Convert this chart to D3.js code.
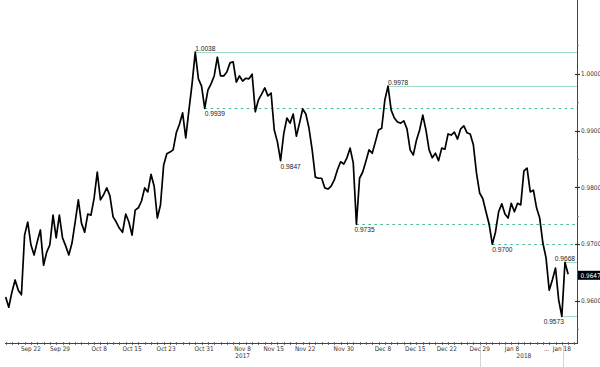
<!DOCTYPE html>
<html>
<head>
<meta charset="utf-8">
<script src="https://cdn.jsdelivr.net/npm/d3@7"></script>
<style>
  html, body { margin: 0; padding: 0; background: #fff; }
  svg { display: block; }
</style>
</head>
<body>
<svg id="chart" width="600" height="367"></svg>
<script>
// ---- data ----
// half-day samples of the price, first sample 4 trading days before Sep 22
const firstDay = -4;
const barsPerDay = 2;
const prices = [
  0.9607, 0.9589, 0.9616, 0.9637, 0.9619, 0.9611, 0.9716, 0.9739, 0.9699, 0.9681,
  0.9704, 0.9725, 0.9663, 0.9686, 0.9699, 0.9751, 0.9711, 0.9751, 0.9711, 0.9697,
  0.9681, 0.9702, 0.9739, 0.9778, 0.9737, 0.9721, 0.9753, 0.9751, 0.9781, 0.9827,
  0.9778, 0.9787, 0.9799, 0.9785, 0.9748, 0.9739, 0.9728, 0.9721, 0.9753, 0.9739,
  0.9716, 0.9760, 0.9764, 0.9776, 0.9799, 0.9792, 0.9823, 0.9802, 0.9746, 0.9769,
  0.9839, 0.9859, 0.9862, 0.9866, 0.9896, 0.9911, 0.9931, 0.9887, 0.9936, 0.9982,
  1.0038, 0.9991, 0.9978, 0.9939, 0.9971, 0.9982, 0.9996, 1.0029, 0.9996, 0.9996,
  1.0003, 1.0019, 1.0021, 0.9985, 0.9996, 0.9987, 0.9992, 0.9991, 0.9999, 0.9933,
  0.9954, 0.9964, 0.9975, 0.9961, 0.9966, 0.9901, 0.9880, 0.9847, 0.9894, 0.9922,
  0.9913, 0.9929, 0.9890, 0.9913, 0.9938, 0.9929, 0.9904, 0.9866, 0.9818, 0.9816,
  0.9816, 0.9799, 0.9797, 0.9802, 0.9813, 0.9831, 0.9845, 0.9841, 0.9852, 0.9869,
  0.9843, 0.9735, 0.9816, 0.9827, 0.9846, 0.9866, 0.9860, 0.9880, 0.9901, 0.9904,
  0.9954, 0.9978, 0.9936, 0.9922, 0.9915, 0.9913, 0.9917, 0.9903, 0.9866, 0.9857,
  0.9883, 0.9901, 0.9927, 0.9901, 0.9866, 0.9852, 0.9860, 0.9847, 0.9869, 0.9867,
  0.9894, 0.9892, 0.9897, 0.9885, 0.9903, 0.9908, 0.9896, 0.9894, 0.9875, 0.9825,
  0.9790, 0.9780, 0.9757, 0.9735, 0.9700, 0.9721, 0.9757, 0.9771, 0.9753, 0.9746,
  0.9772, 0.9757, 0.9772, 0.9769, 0.9829, 0.9834, 0.9792, 0.9795, 0.9764, 0.9746,
  0.9702, 0.9676, 0.9619, 0.9637, 0.9658, 0.9602, 0.9573, 0.9668, 0.9647
];
const lastPrice = 0.9647;

// x axis labels, positions in trading days from Sep 22 2017
const tickLabels = ["Sep 22","Sep 29","Oct 8","Oct 15","Oct 23","Oct 31","Nov 8","Nov 15","Nov 22","Nov 30","Dec 8","Dec 15","Dec 22","Dec 29","Jan 8","...","Jan 18"];
const tickDays   = [0, 4.6, 10.8, 16, 21.4, 27.4, 33.5, 38.4, 43.4, 49.5, 55.7, 60.8, 65.8, 71, 76.1, 81.6, 84];
const yearLabels = ["2017", "2018"];
const yearDays   = [33.5, 78];
const markerDays = [71, 84.2];

// y axis
const yTicks = [0.96, 0.97, 0.98, 0.99, 1.00];
const yMinorTicks = [0.955, 0.965, 0.975, 0.985, 0.995, 1.005];

// annotated levels (highs / lows) and the bar they come from
const levelValues = [1.0038, 0.9939, 0.9978, 0.9847, 0.9735, 0.9700, 0.9668, 0.9573];
const levelBars   = [60, 63, 121, 87, 111, 154, 177, 176];

// ---- drawing ----
const W = 600, H = 367;
const plotLeft = 5, axisX = 577, axisY = 343;
const svg = d3.select("#chart");

const x = d3.scaleLinear().domain([-4.1, 86.4]).range([plotLeft, axisX]);
const y = d3.scaleLinear().domain([0.96, 1.00]).range([301, 73.7]);
const barDay = i => firstDay + i / barsPerDay;

const axisFont = "'Liberation Sans Narrow', 'DejaVu Sans Condensed', 'Liberation Sans', sans-serif";
const labelFont = "'Liberation Sans', Arial, sans-serif";

// level styles (drawing only)
const levelStyle = {
  "1.0038": {line: "solid", pos: "above", anchor: "start", dx: 0},
  "0.9939": {line: "dash",  pos: "below", anchor: "start", dx: 0},
  "0.9978": {line: "solid", pos: "above", anchor: "start", dx: 0},
  "0.9847": {line: "none",  pos: "below", anchor: "start", dx: 0},
  "0.9735": {line: "dash",  pos: "below", anchor: "start", dx: -2},
  "0.9700": {line: "dash",  pos: "below", anchor: "start", dx: 0},
  "0.9668": {line: "solid", pos: "above", anchor: "end",   dx: null},
  "0.9573": {line: "solid", pos: "below", anchor: "end",   dx: 2}
};

// level lines
const lv = svg.append("g");
levelValues.forEach((v, k) => {
  const st = levelStyle[v.toFixed(4)];
  const x0 = x(barDay(levelBars[k]));
  const yy = Math.round(y(v)) + 0.5;
  if (st.line !== "none") {
    lv.append("line")
      .attr("x1", x0).attr("x2", axisX)
      .attr("y1", yy).attr("y2", yy)
      .attr("stroke", st.line === "solid" ? "#9fdcc8" : "#3dbd8c")
      .attr("stroke-width", 1)
      .attr("stroke-dasharray", st.line === "dash" ? "2.5,3.5" : null);
  }
  const tx = st.dx === null ? axisX - 2 : x0 + st.dx;
  lv.append("text")
    .attr("x", tx)
    .attr("y", st.pos === "above" ? yy - 1.5 : yy + 7.5)
    .attr("text-anchor", st.anchor)
    .attr("font-family", labelFont)
    .attr("font-size", "6.6px")
    .attr("fill", "#222")
    .text(v.toFixed(4));
});

// price line
const line = d3.line()
  .x((d, i) => x(barDay(i)))
  .y(d => y(d));
svg.append("path")
  .datum(prices)
  .attr("d", line)
  .attr("fill", "none")
  .attr("stroke", "#000")
  .attr("stroke-width", 1.7)
  .attr("stroke-linejoin", "round");

// x axis
svg.append("line")
  .attr("x1", plotLeft).attr("x2", axisX)
  .attr("y1", axisY + 0.5).attr("y2", axisY + 0.5)
  .attr("stroke", "#444").attr("stroke-width", 1);
const dayTicks = d3.range(Math.ceil(x.domain()[0]), Math.floor(x.domain()[1]) + 1);
svg.append("g").selectAll("line").data(dayTicks).join("line")
  .attr("x1", d => Math.round(x(d)) + 0.5).attr("x2", d => Math.round(x(d)) + 0.5)
  .attr("y1", axisY - 1).attr("y2", axisY + 2)
  .attr("stroke", "#555").attr("stroke-width", 0.8);
svg.append("g").selectAll("line").data(markerDays).join("line")
  .attr("x1", d => Math.round(x(d)) + 0.5).attr("x2", d => Math.round(x(d)) + 0.5)
  .attr("y1", axisY + 2).attr("y2", H)
  .attr("stroke", "#d4d4d4").attr("stroke-width", 1);
svg.append("g").selectAll("text").data(tickLabels).join("text")
  .attr("x", (d, i) => x(tickDays[i]))
  .attr("y", axisY + 7.5)
  .attr("text-anchor", "middle")
  .attr("font-family", axisFont)
  .attr("font-size", "6.4px")
  .attr("fill", "#333")
  .text(d => d);
svg.append("g").selectAll("text").data(yearLabels).join("text")
  .attr("x", (d, i) => x(yearDays[i]))
  .attr("y", axisY + 14.5)
  .attr("text-anchor", "middle")
  .attr("font-family", axisFont)
  .attr("font-size", "6.4px")
  .attr("fill", "#333")
  .text(d => d);

// y axis (right)
svg.append("line")
  .attr("x1", axisX + 0.5).attr("x2", axisX + 0.5)
  .attr("y1", 0).attr("y2", axisY + 1)
  .attr("stroke", "#444").attr("stroke-width", 1);
svg.append("g").selectAll("line").data(yTicks).join("line")
  .attr("x1", axisX - 2).attr("x2", axisX + 3)
  .attr("y1", d => Math.round(y(d)) + 0.5).attr("y2", d => Math.round(y(d)) + 0.5)
  .attr("stroke", "#333").attr("stroke-width", 1.2);
svg.append("g").selectAll("line").data(yMinorTicks).join("line")
  .attr("x1", axisX).attr("x2", axisX + 2)
  .attr("y1", d => Math.round(y(d)) + 0.5).attr("y2", d => Math.round(y(d)) + 0.5)
  .attr("stroke", "#777").attr("stroke-width", 0.8);
svg.append("g").selectAll("text").data(yTicks).join("text")
  .attr("x", axisX + 4)
  .attr("y", d => y(d) + 2.3)
  .attr("font-family", axisFont)
  .attr("font-size", "6.4px")
  .attr("fill", "#333")
  .text(d => d.toFixed(4));

// last price tag
const ly = y(lastPrice) + 1;
svg.append("rect")
  .attr("x", axisX + 1).attr("y", ly - 4.5)
  .attr("width", W - axisX - 1).attr("height", 9)
  .attr("fill", "#000");
svg.append("text")
  .attr("x", axisX + 3.5).attr("y", ly + 2.3)
  .attr("font-family", axisFont)
  .attr("font-size", "6.4px")
  .attr("fill", "#fff")
  .text(lastPrice.toFixed(4));
</script>
</body>
</html>
